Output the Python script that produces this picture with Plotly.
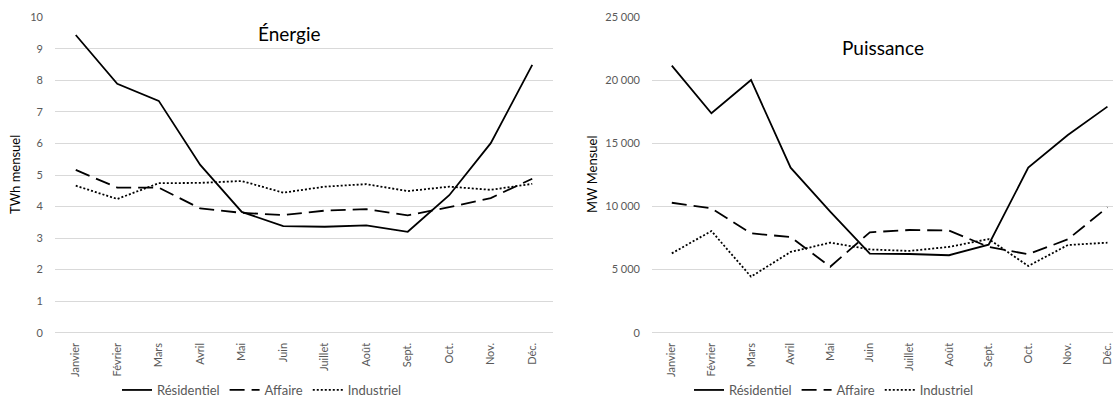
import plotly.graph_objects as go

W, H = 1115, 405

months = ["Janvier", "Février", "Mars", "Avril", "Mai", "Juin",
          "Juillet", "Août", "Sept.", "Oct.", "Nov.", "Déc."]

# Énergie mensuelle (TWh)
energie_residentiel = [9.44, 7.89, 7.35, 5.32, 3.83, 3.38, 3.36, 3.40, 3.20, 4.36, 6.01, 8.49]
energie_affaire = [5.16, 4.60, 4.60, 3.94, 3.80, 3.73, 3.87, 3.92, 3.72, 3.98, 4.27, 4.88]
energie_industriel = [4.66, 4.24, 4.74, 4.75, 4.81, 4.44, 4.63, 4.71, 4.49, 4.63, 4.53, 4.72]

# Puissance mensuelle (MW)
puissance_residentiel = [21170, 17390, 20030, 13080, 9600, 6260, 6240, 6140, 6980, 13080, 15670, 17920]
puissance_affaire = [10300, 9860, 7880, 7580, 5230, 7960, 8140, 8100, 6800, 6220, 7400, 9940]
puissance_industriel = [6290, 8060, 4440, 6400, 7140, 6600, 6480, 6800, 7420, 5285, 6950, 7135]

series_names = ["Résidentiel", "Affaire", "Industriel"]
dash_styles = ["solid", "15px,7px", "2px,2px"]

GRID = "#d9d9d9"
TICK = "#595959"
FONT = "Lato, 'Open Sans', sans-serif"


def px_x(p):
    return p / W


def px_y(p):
    return 1 - p / H


fig = go.Figure()

for name, vals, dash in zip(series_names,
                            [energie_residentiel, energie_affaire, energie_industriel],
                            dash_styles):
    fig.add_trace(go.Scatter(x=months, y=vals, name=name, mode="lines",
                             line=dict(color="black", width=1.8, dash=dash),
                             xaxis="x", yaxis="y", legend="legend"))

for name, vals, dash in zip(series_names,
                            [puissance_residentiel, puissance_affaire, puissance_industriel],
                            dash_styles):
    fig.add_trace(go.Scatter(x=months, y=vals, name=name, mode="lines",
                             line=dict(color="black", width=1.8, dash=dash),
                             xaxis="x2", yaxis="y2", legend="legend2"))

ydom = [px_y(332.7), px_y(17.3)]

xaxis_common = dict(type="category", tickangle=-90, showgrid=False, showline=False,
                    zeroline=False, ticks="", automargin=False,
                    tickfont=dict(size=11, color=TICK, family=FONT),
                    ticklabelstandoff=7)
yaxis_common = dict(showgrid=True, gridcolor=GRID, gridwidth=1, showline=False,
                    zeroline=True, zerolinecolor=GRID, zerolinewidth=1, ticks="",
                    automargin=False,
                    tickfont=dict(size=11, color=TICK, family=FONT), ticklabelstandoff=11)

legend_common = dict(orientation="h", y=0, yanchor="bottom", xanchor="center",
                     font=dict(size=13, color=TICK, family=FONT), itemwidth=30,
                     bgcolor="rgba(0,0,0,0)")


def label(text, x, y, size, angle=0):
    return dict(text=text, x=px_x(x), y=px_y(y), xref="paper", yref="paper",
                xanchor="center", yanchor="middle", textangle=angle, showarrow=False,
                font=dict(size=size, color="black", family=FONT))


fig.update_layout(
    width=W, height=H,
    margin=dict(l=0, r=0, t=0, b=0),
    paper_bgcolor="white", plot_bgcolor="white",
    font=dict(family=FONT, color=TICK),
    separators=", ",
    xaxis=dict(domain=[px_x(55), px_x(553)], range=[-0.5, 11.5], anchor="y", **xaxis_common),
    yaxis=dict(domain=ydom, range=[0, 10], dtick=1, anchor="x", **yaxis_common),
    xaxis2=dict(domain=[px_x(652), px_x(1113)], range=[-0.5, 11.14], anchor="y2", **xaxis_common),
    yaxis2=dict(domain=ydom, range=[0, 25000], dtick=5000, tickformat=",d", anchor="x2",
                **yaxis_common),
    legend=dict(x=px_x(262), **legend_common),
    legend2=dict(x=px_x(834), **legend_common),
    annotations=[
        label("Énergie", 290, 33, 19),
        label("Puissance", 883, 48, 19),
        label("TWh mensuel", 15, 175, 13, -90),
        label("MW Mensuel", 592, 175, 13, -90),
    ],
)

fig.write_html("out.html")
